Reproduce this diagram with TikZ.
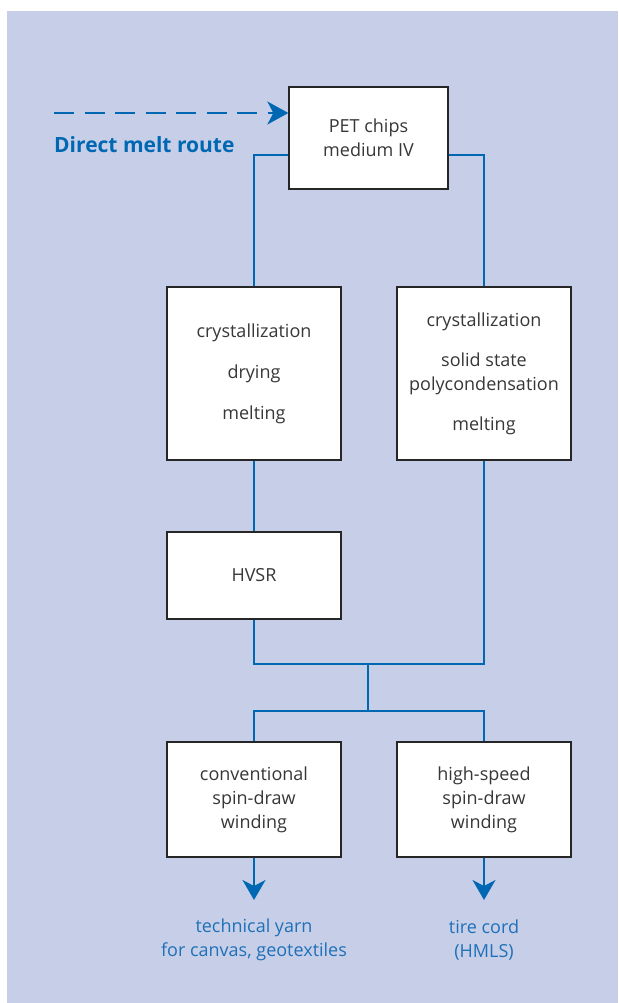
\documentclass[tikz,border=0pt]{standalone}
\usepackage{fontspec}
\setmainfont{Open Sans}
\usetikzlibrary{arrows.meta}
\definecolor{panelblue}{RGB}{199,207,232}
\definecolor{routeblue}{RGB}{0,103,178}
\definecolor{textblue}{RGB}{30,112,184}
\definecolor{boxgray}{RGB}{55,55,55}
\tikzset{
  stage/.style={draw=black!85, line width=1.3pt, fill=white, text=boxgray, align=center,
    inner sep=0pt, minimum width=174pt, font=\fontsize{18}{24}\selectfont},
  link/.style={draw=routeblue, line width=1.7pt},
  outlet/.style={link, -{Stealth[length=20pt,width=23pt,inset=6pt]}},
  product/.style={text=textblue, align=center, font=\fontsize{18}{24}\selectfont},
}
\begin{document}
\begin{tikzpicture}[x=1pt,y=-1pt]
 % panel
 \useasboundingbox (0,0) rectangle (618,1003);
 \fill[panelblue] (7,11) rectangle (618,1003);
 % chips and melt route
 \node[stage, minimum width=159pt, minimum height=102pt] (chips) at (368.5,138) {PET chips\\medium IV};
 \coordinate (melt) at (54,113);
 \draw[link, dash pattern=on 20pt off 10.5pt, -{Stealth[length=21pt,width=23pt,inset=6pt]}] (melt) -- (melt -| chips.west);
 \node[anchor=base west, inner sep=0pt, text=routeblue, font=\bfseries\fontsize{21}{24}\selectfont] (meltlbl) at (54,153) {Direct melt route};
 % two melt preparations
 \node[stage, minimum height=173pt] (prepL) at (254,373.5) {crystallization\\[17pt]drying\\[17pt]melting};
 \node[stage, minimum height=173pt] (prepR) at (484,373.5) {crystallization\\[16pt]solid state\\polycondensation\\[16pt]melting};
 \node[stage, minimum height=87pt] (hvsr) at (254,575.5) {HVSR};
 \draw[link] ([yshift=-17pt]chips.west) -| (prepL.north);
 \draw[link] ([yshift=-17pt]chips.east) -| (prepR.north);
 \draw[link] (prepL.south) -- (hvsr.north);
 % merge and split
 \coordinate (join) at (368,664);
 \coordinate (split) at (368,711);
 \node[stage, minimum height=115pt] (conv) at (254,799.5) {conventional\\spin-draw\\winding};
 \node[stage, minimum height=115pt] (fast) at (484,799.5) {high-speed\\spin-draw\\winding};
 \draw[link] (hvsr.south) |- (join) -| (prepR.south);
 \draw[link] (join) -- (split);
 \draw[link] (conv.north) |- (split) -| (fast.north);
 % products
 \coordinate (tipL) at (254,900);
 \coordinate (tipR) at (484,900);
 \draw[outlet] (conv.south) -- (tipL);
 \draw[outlet] (fast.south) -- (tipR);
 \node[product] (yarn) at (254,940) {technical yarn\\for canvas, geotextiles};
 \node[product] (cord) at (484,940) {tire cord\\(HMLS)};
\end{tikzpicture}
\end{document}
